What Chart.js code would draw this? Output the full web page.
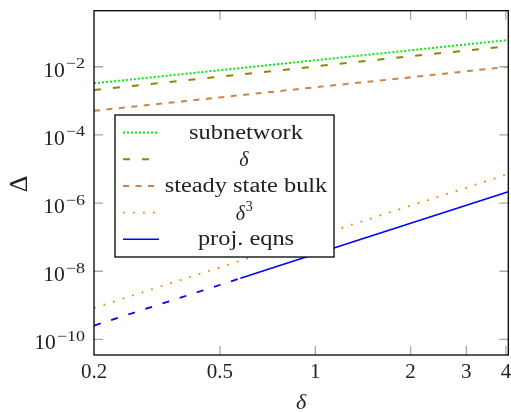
<!DOCTYPE html>
<html>
<head>
<meta charset="utf-8">
<script src="https://cdn.jsdelivr.net/npm/chart.js@4"></script>
<style>
  html, body { margin: 0; padding: 0; background: #fff; }
  canvas { display: block; }
</style>
</head>
<body>
<canvas id="chart" width="511" height="412"></canvas>
<script>
// tick values
const xTicks = [0.2, 0.5, 1, 2, 3, 4];
const xTickLabels = ['0.2', '0.5', '1', '2', '3', '4'];
const yTicks = [1e-2, 1e-4, 1e-6, 1e-8, 1e-10];
const yTickExps = ['−2', '−4', '−6', '−8', '−10'];

// series
const subnetworkX = [0.2, 0.5, 1, 2, 4.07];
const subnetworkY = [3.26e-3, 7.9e-3, 1.55e-2, 3.04e-2, 6.07e-2];

const deltaX = [0.2, 0.5, 1, 2, 4.07];
const deltaY = [2.07e-3, 5.1e-3, 1.02e-2, 2.03e-2, 4.0e-2];

const bulkX = [0.2, 0.5, 1, 2, 4.07];
const bulkY = [5.1e-4, 1.26e-3, 2.5e-3, 4.9e-3, 1.0e-2];

const delta3X = [0.2, 0.5, 1, 2, 4.07];
const delta3Y = [8.4e-10, 1.3e-8, 1.05e-7, 8.4e-7, 7.1e-6];

const projDashX = [0.2, 0.35, 0.58];
const projDashY = [2.55e-10, 1.37e-9, 6.2e-9];
const projX = [0.58, 1, 2, 4.07];
const projY = [6.2e-9, 3.2e-8, 2.55e-7, 2.16e-6];

const pts = (xs, ys) => xs.map((x, i) => ({ x: x, y: ys[i] }));

const SERIF = '"Liberation Serif", "DejaVu Serif", serif';

function line(label, xs, ys, color, dash, width, legend) {
    return {
        label: label,
        data: pts(xs, ys),
        borderColor: color,
        borderWidth: width,
        borderDash: dash,
        pointRadius: 0,
        fill: false,
        tension: 0,
        showInLegend: legend,
    };
}

const datasets = [
    line('subnetwork', subnetworkX, subnetworkY, '#00ee00', [2, 2], 2, true),
    line('δ', deltaX, deltaY, '#8c8600', [7, 12], 2, true),
    line('steady state bulk', bulkX, bulkY, '#c8864a', [6, 6.5], 2, true),
    line('δ³', delta3X, delta3Y, '#ff8000', [1.8, 8.2], 1.8, true),
    line('proj. eqns dashed', projDashX, projDashY, '#0000ff', [7, 11], 1.8, false),
    line('proj. eqns', projX, projY, '#0000ff', [], 1.6, true),
];

// draw text stretched horizontally (Computer Modern is wider than Times)
function wideText(ctx, text, x, y, align, sx) {
    const w = ctx.measureText(text).width * sx;
    let left = x;
    if (align === 'center') left = x - w / 2;
    else if (align === 'right') left = x - w;
    ctx.save();
    ctx.textAlign = 'left';
    ctx.translate(left, y);
    ctx.scale(sx, 1);
    ctx.fillText(text, 0, 0);
    ctx.restore();
    return w;
}

const decorations = {
    id: 'decorations',
    afterDatasetsDraw(chart) {
        const ctx = chart.ctx;
        const a = chart.chartArea;
        const xs = chart.scales.x;
        const ys = chart.scales.y;
        ctx.save();

        // tick marks (inside, grey)
        ctx.strokeStyle = '#a8a8a8';
        ctx.lineWidth = 1.3;
        ctx.setLineDash([]);
        xTicks.forEach(v => {
            const px = xs.getPixelForValue(v);
            if (px <= a.left + 1 || px >= a.right - 1) return;
            ctx.beginPath();
            ctx.moveTo(px, a.bottom); ctx.lineTo(px, a.bottom - 9);
            ctx.moveTo(px, a.top); ctx.lineTo(px, a.top + 9);
            ctx.stroke();
        });
        yTicks.forEach(v => {
            const py = ys.getPixelForValue(v);
            ctx.beginPath();
            ctx.moveTo(a.left, py); ctx.lineTo(a.left + 9, py);
            ctx.moveTo(a.right, py); ctx.lineTo(a.right - 9, py);
            ctx.stroke();
        });

        // frame
        ctx.strokeStyle = '#000';
        ctx.lineWidth = 1.3;
        ctx.strokeRect(a.left, a.top, a.right - a.left, a.bottom - a.top);

        // tick labels
        ctx.fillStyle = '#222';
        ctx.textBaseline = 'alphabetic';
        ctx.font = '20px ' + SERIF;
        xTicks.forEach((v, i) => {
            wideText(ctx, xTickLabels[i], xs.getPixelForValue(v), 378, 'center', 1.05);
        });
        yTicks.forEach((v, i) => {
            const py = ys.getPixelForValue(v);
            ctx.font = '15px ' + SERIF;
            const ew = wideText(ctx, yTickExps[i], a.left - 9, py + 1.5, 'right', 1.2);
            ctx.font = '20px ' + SERIF;
            wideText(ctx, '10', a.left - 10 - ew, py + 10, 'right', 1.08);
        });

        // axis titles
        ctx.textAlign = 'center';
        ctx.font = 'italic 22px ' + SERIF;
        ctx.fillText('δ', (a.left + a.right) / 2, 409);
        ctx.save();
        ctx.translate(20, 184);
        ctx.rotate(-Math.PI / 2);
        ctx.font = '26px ' + SERIF;
        ctx.textBaseline = 'middle';
        ctx.fillText('Δ', 0, 0);
        ctx.restore();

        // legend box
        const lx = 115, ly = 115, lw = 219, lh = 142;
        ctx.fillStyle = '#fff';
        ctx.fillRect(lx, ly, lw, lh);
        ctx.strokeStyle = '#000';
        ctx.lineWidth = 1.3;
        ctx.strokeRect(lx, ly, lw, lh);

        const entries = chart.data.datasets.filter(d => d.showInLegend);
        entries.forEach((d, i) => {
            const cy = ly + 17.5 + i * 26.7;
            ctx.strokeStyle = d.borderColor;
            ctx.lineWidth = d.borderWidth;
            ctx.setLineDash(d.borderDash);
            ctx.beginPath();
            ctx.moveTo(123, cy); ctx.lineTo(159, cy);
            ctx.stroke();
            ctx.setLineDash([]);

            ctx.fillStyle = '#222';
            ctx.textBaseline = 'alphabetic';
            if (d.label === 'δ³') {
                ctx.font = 'italic 20px ' + SERIF;
                const w1 = ctx.measureText('δ').width;
                ctx.font = '14px ' + SERIF;
                const w2 = ctx.measureText('3').width;
                const start = 244 - (w1 + w2) / 2;
                ctx.textAlign = 'left';
                ctx.font = 'italic 20px ' + SERIF;
                ctx.fillText('δ', start, cy + 7);
                ctx.font = '14px ' + SERIF;
                ctx.fillText('3', start + w1 + 0.5, cy - 2);
            } else if (d.label === 'δ') {
                ctx.textAlign = 'center';
                ctx.font = 'italic 20px ' + SERIF;
                ctx.fillText('δ', 244, cy + 7);
            } else {
                ctx.font = '20px ' + SERIF;
                wideText(ctx, d.label, 246, cy + 6, 'center', 1.22);
            }
        });

        ctx.restore();
    }
};

new Chart(document.getElementById('chart'), {
    type: 'line',
    data: { datasets: datasets },
    options: {
        responsive: false,
        animation: false,
        layout: { padding: { left: 94, right: 2.7, top: 10.7, bottom: 57 } },
        plugins: {
            legend: { display: false },
            tooltip: { enabled: false },
        },
        scales: {
            x: {
                type: 'logarithmic',
                display: false,
                min: 0.2,
                max: 4.07,
            },
            y: {
                type: 'logarithmic',
                display: false,
                min: 3.5e-11,
                max: 0.44,
            },
        },
    },
    plugins: [decorations],
});
</script>
</body>
</html>
